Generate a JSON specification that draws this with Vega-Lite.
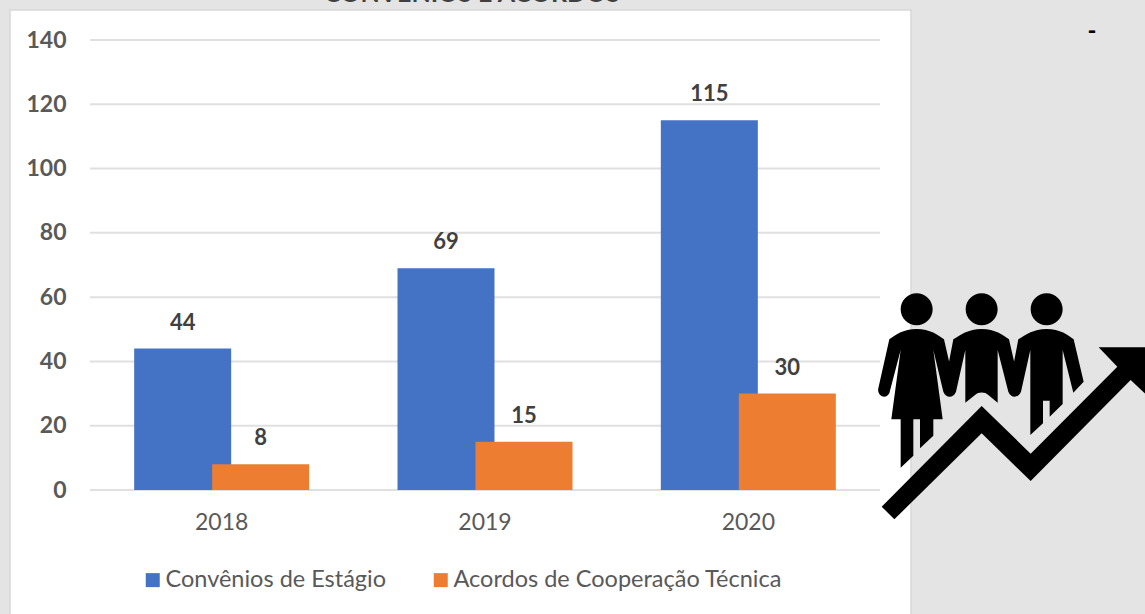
{"$schema":"https://vega.github.io/schema/vega-lite/v6.json","width":790,"height":450,"autosize":{"type":"none"},"padding":{"left":90,"top":40,"right":265,"bottom":124},"background":"#e4e4e4","config":{"view":{"stroke":null},"font":"Lato"},"resolve":{"scale":{"x":"independent","y":"independent","color":"independent"}},"layer":[{"data":{"values":[{}]},"mark":{"type":"rect","fill":"#ffffff","stroke":"#d8d8d8","strokeWidth":1.5},"encoding":{"x":{"datum":-80,"type":"quantitative","scale":{"domain":[0,790]},"axis":null},"x2":{"datum":821},"y":{"datum":480,"type":"quantitative","scale":{"domain":[0,450]},"axis":null},"y2":{"datum":-130}}},{"data":{"values":[{"year":"2018","serie":"Convênios de Estágio","value":44},{"year":"2019","serie":"Convênios de Estágio","value":69},{"year":"2020","serie":"Convênios de Estágio","value":115},{"year":"2018","serie":"Acordos de Cooperação Técnica","value":8},{"year":"2019","serie":"Acordos de Cooperação Técnica","value":15},{"year":"2020","serie":"Acordos de Cooperação Técnica","value":30}]},"encoding":{"x":{"field":"year","type":"nominal","scale":{"paddingInner":0,"paddingOuter":0},"axis":{"title":null,"labelAngle":0,"domain":false,"ticks":false,"grid":false,"labelFont":"Lato","labelFontSize":23,"labelColor":"#595959","labelPadding":21,"zindex":1}},"y":{"field":"value","type":"quantitative","scale":{"domain":[0,140],"nice":false},"axis":{"title":null,"values":[0,20,40,60,80,100,120,140],"domain":false,"ticks":false,"grid":false,"labelFont":"Lato","labelFontSize":23,"labelFontWeight":"bold","labelColor":"#595959","labelPadding":24,"zindex":1}},"xOffset":{"field":"serie","type":"nominal","sort":["Convênios de Estágio","Acordos de Cooperação Técnica"],"scale":{"paddingInner":0,"paddingOuter":0.688}}},"layer":[{"data":{"values":[{"value":0},{"value":20},{"value":40},{"value":60},{"value":80},{"value":100},{"value":120},{"value":140}]},"mark":{"type":"rule","stroke":"#e0e0e0","strokeWidth":2},"encoding":{"x":{"value":0},"x2":{"value":790},"xOffset":{"value":0},"y":{"field":"value","type":"quantitative"}}},{"mark":{"type":"bar","size":97},"encoding":{"color":{"field":"serie","type":"nominal","scale":{"domain":["Convênios de Estágio","Acordos de Cooperação Técnica"],"range":["#4472C4","#ED7D31"]},"legend":{"title":null,"orient":"none","direction":"horizontal","legendX":51,"legendY":528,"symbolType":"square","symbolSize":196,"symbolStrokeWidth":0,"labelFont":"Lato","labelFontSize":23.5,"labelColor":"#595959","labelLimit":400,"columnPadding":42,"labelOffset":1}}}},{"mark":{"type":"text","dy":-26,"baseline":"middle","font":"Lato","fontSize":22,"fontWeight":"bold","color":"#404040"},"encoding":{"text":{"field":"value","type":"quantitative"}}}]},{"data":{"values":[{}]},"mark":{"type":"point","filled":true,"opacity":1,"color":"#000000","size":0.4444,"shape":"M122,88a48,48 0 1,1 96,0a48,48 0 1,1 -96,0ZM317,88a48,48 0 1,1 96,0a48,48 0 1,1 -96,0ZM512,88a48,48 0 1,1 96,0a48,48 0 1,1 -96,0ZM170,147C130,147 105,165 88,178L55,325C50,345 75,362 88,340L122,210L94,418L122,418L122,563L160,527L160,418L180,418L180,505L220,467L220,418L248,418L220,210L250,335C258,355 280,355 288,335L252,178C235,165 210,147 170,147ZM365,147C325,147 300,165 280,178L250,335C258,355 280,355 288,335L316,210L316,368L345,345C355,335 375,335 385,345L413,368L413,210L445,335C453,355 475,355 483,335L447,178C430,165 405,147 365,147ZM560,147C520,147 495,165 475,178L445,335C453,355 475,355 483,335L511,210L511,465L549,430L549,362L569,362L569,410L608,372L608,210L640,338L671,305L641,178C625,165 600,147 560,147ZM65,680L365,378L512,521L772,260L716,202L870,202L870,355L812,300L512,603L365,460L103,718Z"},"encoding":{"x":{"datum":770,"type":"quantitative","scale":{"domain":[0,790]},"axis":null},"y":{"datum":210,"type":"quantitative","scale":{"domain":[0,450]},"axis":null}}},{"data":{"values":[{}]},"mark":{"type":"text","text":"-","font":"Lato","fontSize":24,"fontWeight":"bold","color":"#000000","baseline":"middle","align":"center"},"encoding":{"x":{"datum":1002,"type":"quantitative","scale":{"domain":[0,790]},"axis":null},"y":{"datum":458,"type":"quantitative","scale":{"domain":[0,450]},"axis":null}}},{"data":{"values":[{}]},"mark":{"type":"text","text":"CONVÊNIOS E ACORDOS","font":"Lato","fontSize":25,"fontWeight":"bold","color":"#404040","baseline":"alphabetic","align":"center"},"encoding":{"x":{"datum":382,"type":"quantitative","scale":{"domain":[0,790]},"axis":null},"y":{"datum":488,"type":"quantitative","scale":{"domain":[0,450]},"axis":null}}}]}
